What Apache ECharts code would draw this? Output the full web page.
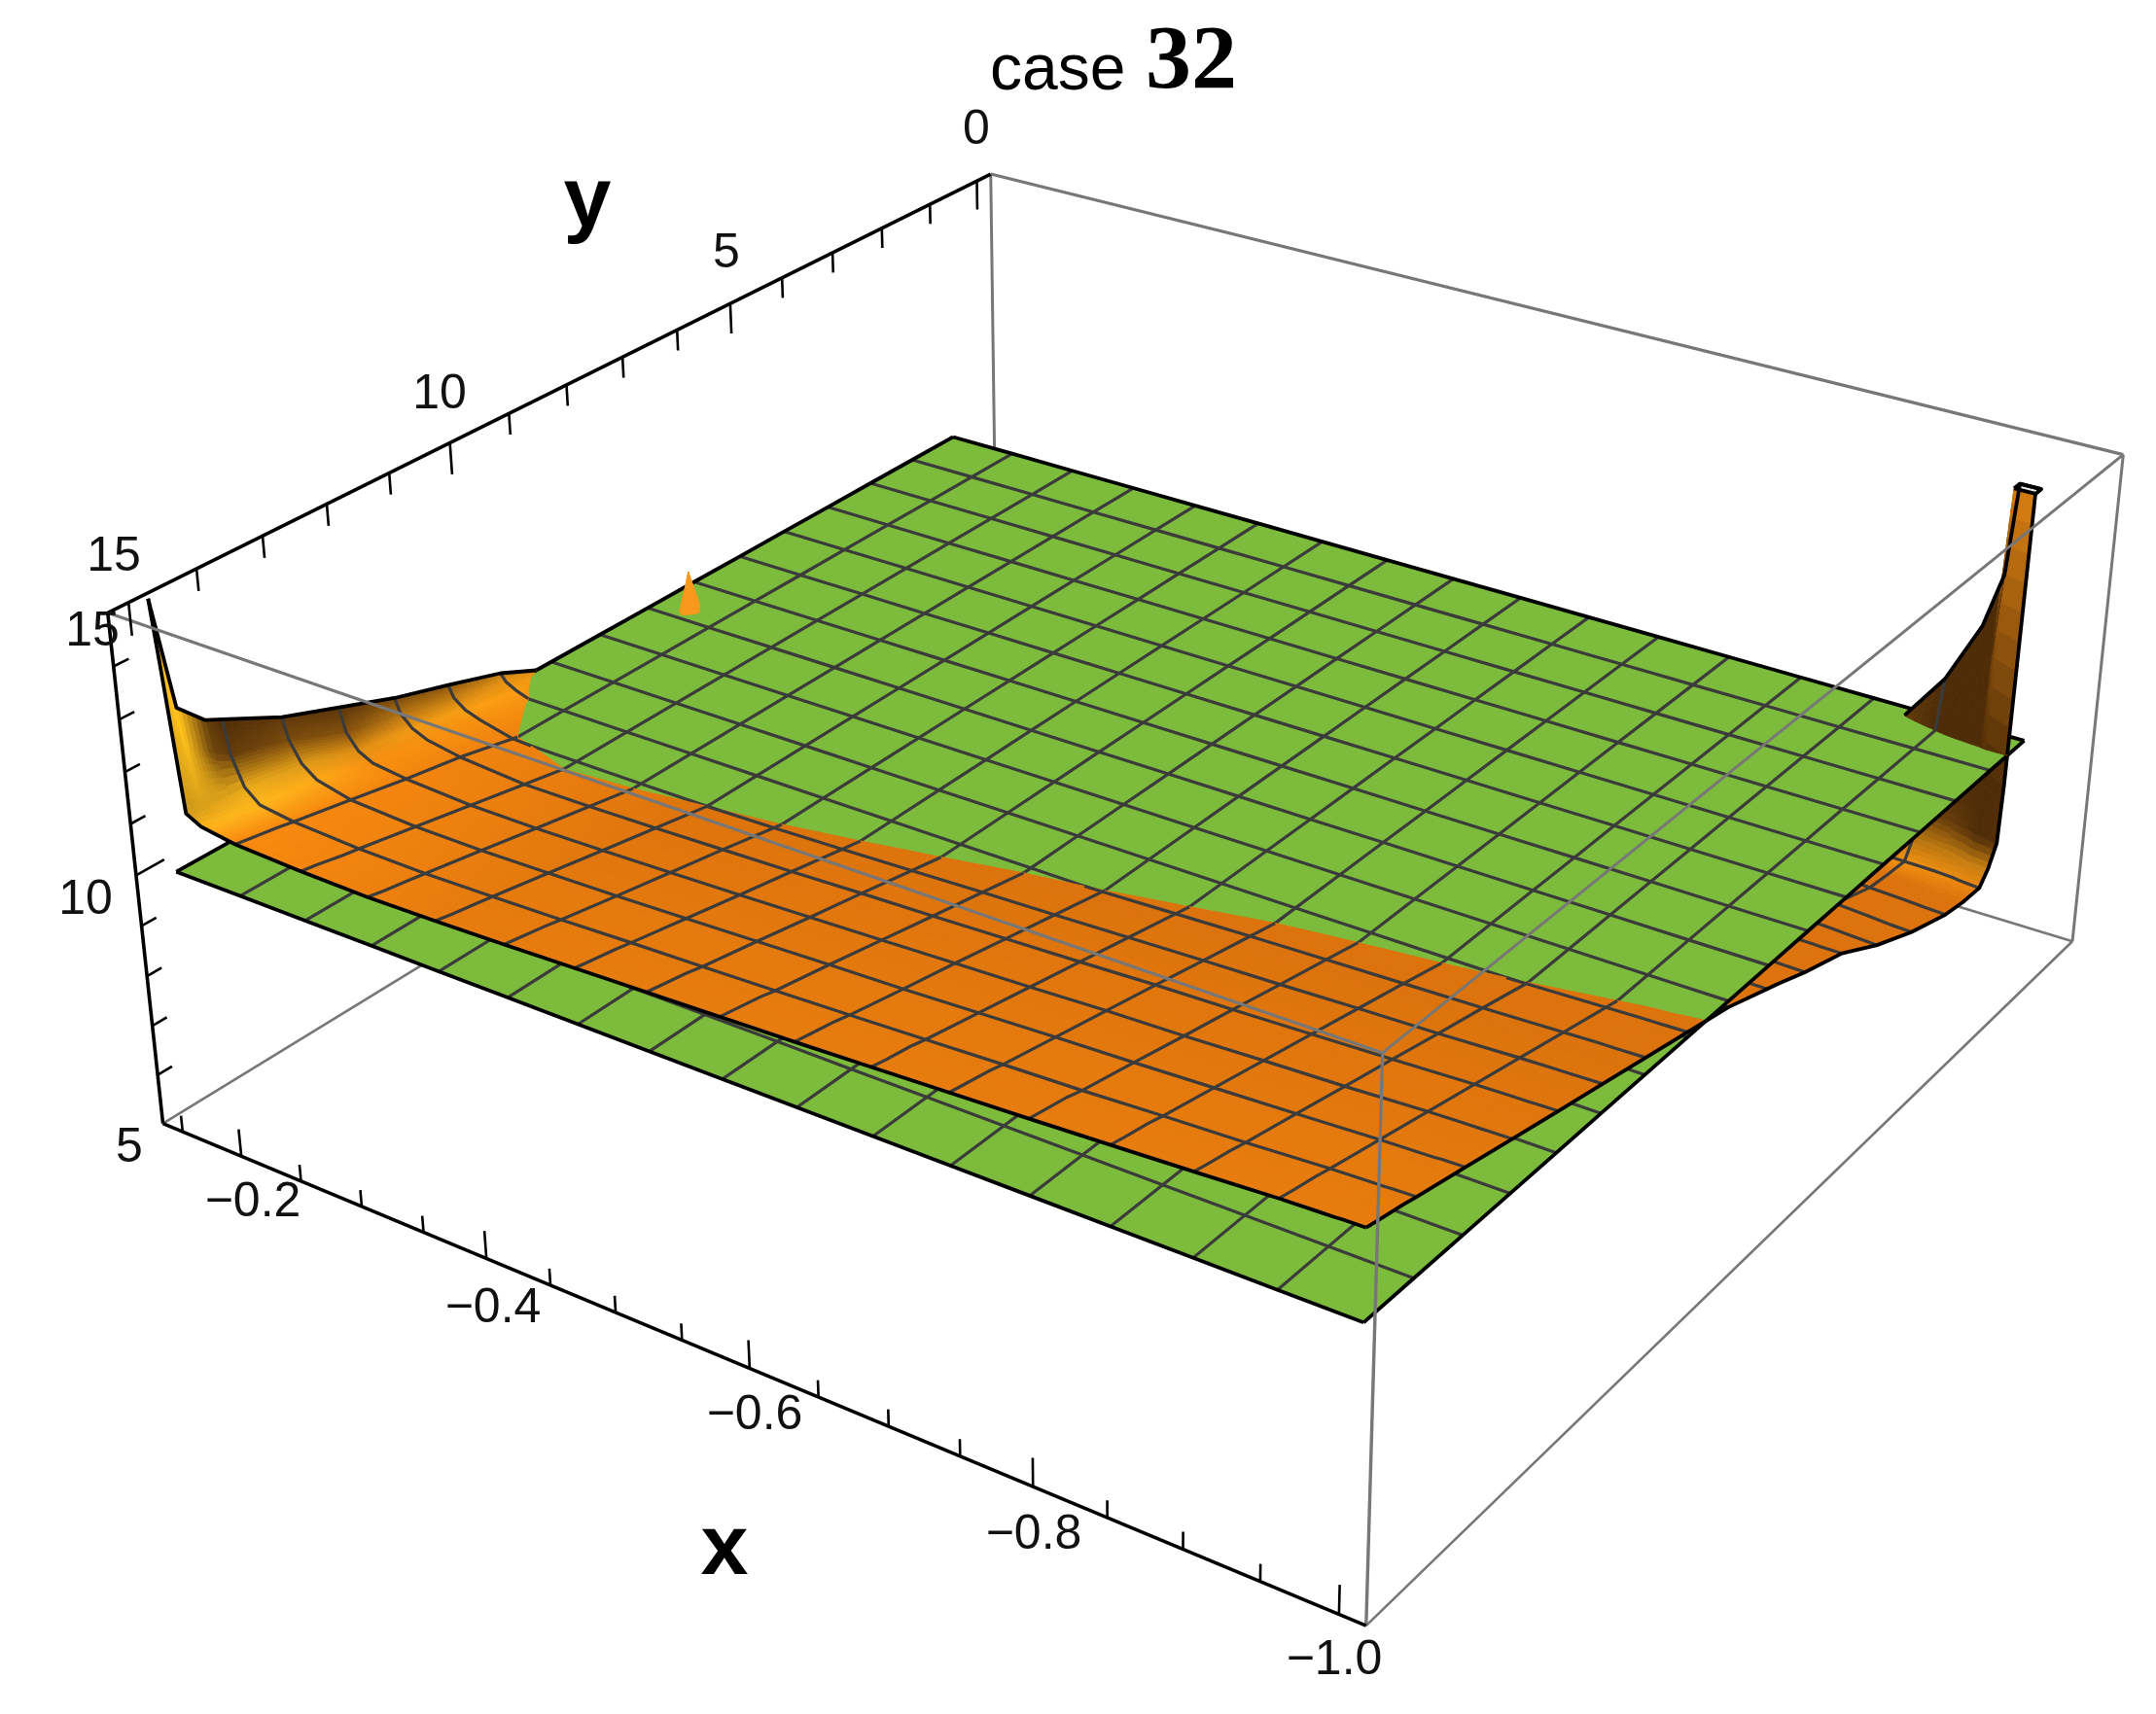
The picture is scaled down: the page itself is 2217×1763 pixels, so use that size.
<!DOCTYPE html>
<html><head><meta charset="utf-8">
<style>html,body{margin:0;padding:0;background:#fff}#c{width:2217px;height:1763px}</style>
<script src="https://cdn.jsdelivr.net/npm/echarts@6/dist/echarts.min.js"></script>
</head><body><div id="c"></div>
<script>
// ---------- chart values ----------
const greenX = [-1,-0.9469,-0.8938,-0.8406,-0.7875,-0.7344,-0.6813,-0.6281,-0.575,-0.5219,-0.4688,-0.4156,-0.3625,-0.3094,-0.2563,-0.2031,-0.15];
const greenY = [15,14.125,13.25,12.375,11.5,10.625,9.75,8.875,8,7.125,6.25,5.375,4.5,3.625,2.75,1.875,1];
const greenLevels = [10,10,10,10,10,10,10,10,10,10,10,10,10,10,10,10,10];
const orangeX = [-0.15,-0.1543,-0.1636,-0.1755,-0.2031,-0.2563,-0.3094,-0.3625,-0.4156,-0.4688,-0.5219,-0.575,-0.6281,-0.6813,-0.7344,-0.7875,-0.8406,-0.8938,-0.9469,-0.9694,-0.981,-0.9856,-1];
const orangeY = [15,14.76,14.37,14.125,13.25,12.375,11.5,10.625,9.75,8.875,8,7.125,6.88,6.25,5.375,4.5,3.625,2.75,2.3,1.875,1.68,1.5,1.45,1.35,1.2];
const orangeZ = [
[15.2,14.0,11.25,11.1,11.0,10.95,10.93,10.96,11.0,11.05,11.1,11.15,11.2,11.26,11.32,11.38,11.45,11.52,11.6,11.62,11.63,11.64,11.65],
[13.0,12.3,11.22,11.0,10.95,10.9,10.87,10.9,10.95,11.0,11.05,11.1,11.15,11.2,11.27,11.33,11.39,11.46,11.54,11.56,11.57,11.58,11.59],
[12.5,11.9,11.15,10.95,10.87,10.8,10.79,10.82,10.87,10.92,10.97,11.02,11.07,11.13,11.19,11.25,11.31,11.37,11.45,11.47,11.48,11.49,11.5],
[12.35,11.7,11.15,10.9,10.81,10.75,10.74,10.77,10.81,10.86,10.9,10.95,11.0,11.06,11.12,11.17,11.24,11.3,11.38,11.4,11.41,11.42,11.43],
[11.8,11.39,11.0,10.78,10.62,10.55,10.55,10.58,10.61,10.66,10.71,10.76,10.8,10.86,10.92,10.97,11.03,11.09,11.16,11.18,11.19,11.2,11.21],
[11.4,10.95,10.65,10.5,10.42,10.35,10.35,10.38,10.42,10.46,10.51,10.56,10.61,10.66,10.72,10.76,10.82,10.87,10.94,10.96,10.965,10.97,10.98],
[11.0,10.72,10.5,10.37,10.25,10.15,10.16,10.19,10.23,10.27,10.32,10.36,10.41,10.46,10.52,10.56,10.61,10.66,10.72,10.74,10.745,10.75,10.76],
[10.68,10.45,10.28,10.18,10.02,9.95,9.97,10.0,10.03,10.07,10.12,10.17,10.21,10.26,10.31,10.35,10.4,10.44,10.5,10.52,10.525,10.53,10.54],
[10.34,10.2,10.08,9.98,9.8,9.75,9.77,9.8,9.84,9.88,9.92,9.97,10.01,10.06,10.11,10.15,10.19,10.23,10.28,10.3,10.305,10.31,10.32],
[9.85,9.78,9.7,9.62,9.6,9.55,9.58,9.61,9.65,9.68,9.73,9.77,9.82,9.86,9.91,9.94,9.97,10.01,10.06,10.08,10.085,10.09,10.1],
[9.6,9.55,9.5,9.45,9.4,9.35,9.38,9.42,9.45,9.49,9.53,9.58,9.62,9.66,9.7,9.73,9.76,9.8,9.84,9.86,9.865,9.87,9.88],
[9.4,9.35,9.25,9.6,9.2,9.15,9.18,9.22,9.25,9.29,9.33,9.38,9.42,9.45,9.48,9.5,9.52,9.54,9.56,9.56,9.555,9.55,9.55],
[9.3,9.2,9.6,10.8,8.0,9.1,9.13,9.18,9.2,9.24,9.28,9.33,9.37,9.4,9.43,9.45,9.46,9.48,9.48,9.48,9.475,9.47,9.46],
[9.2,9.15,9.05,8.0,9.0,8.95,8.98,9.02,9.05,9.09,9.13,9.17,9.2,9.22,9.24,9.25,9.25,9.25,9.23,9.22,9.215,9.21,9.2],
[9.0,8.95,8.9,8.85,8.8,8.75,8.78,8.82,8.85,8.88,8.92,8.95,8.97,8.98,8.98,8.98,8.97,8.95,8.92,8.91,8.905,8.9,8.9],
[8.8,8.75,8.7,8.65,8.6,8.55,8.58,8.6,8.63,8.66,8.68,8.7,8.7,8.7,8.68,8.66,8.62,8.56,8.48,8.45,8.43,8.42,8.4],
[8.6,8.55,8.5,8.45,8.4,8.35,8.38,8.4,8.42,8.44,8.45,8.45,8.45,8.42,8.38,8.34,8.28,8.2,8.1,8.06,8.03,8.02,8.0],
[8.4,8.35,8.3,8.25,8.2,8.15,8.18,8.2,8.22,8.23,8.23,8.22,8.2,8.16,8.1,8.04,7.96,7.88,7.78,7.75,7.73,7.72,7.7],
[8.3,8.25,8.2,8.15,8.1,8.06,8.09,8.11,8.12,8.13,8.13,8.12,8.1,8.05,8.0,7.94,7.87,7.8,7.72,7.69,7.66,7.64,7.62],
[8.2,8.15,8.1,8.05,8.0,7.97,8.0,8.02,8.03,8.04,8.04,8.02,8.0,7.95,7.9,7.84,7.78,7.72,7.68,7.67,7.65,7.63,7.6],
[8.15,8.1,8.05,8.02,7.98,7.95,7.98,8.0,8.02,8.02,8.02,8.01,7.99,7.95,7.91,7.86,7.8,7.82,8.05,7.98,7.92,7.88,7.85],
[8.1,8.05,8.0,8.0,7.95,7.93,7.96,7.98,8.0,8.0,8.0,8.0,7.98,7.95,7.92,7.88,7.82,7.95,8.5,8.4,8.35,8.3,8.25],
[8.0,8.0,7.95,7.95,7.9,7.9,7.92,7.94,7.95,7.95,7.95,7.95,7.93,7.92,7.88,7.85,7.9,8.2,9.0,9.2,9.4,9.6,9.4],
[7.95,7.95,7.9,7.9,7.9,7.9,7.9,7.9,7.9,7.9,7.9,7.9,7.9,7.9,7.9,7.9,8.2,8.5,9.9,11.0,11.8,15.1,15.1],
[7.95,7.95,7.9,7.9,7.9,7.9,7.9,7.9,7.9,7.9,7.9,7.9,7.95,7.95,7.98,8.0,8.4,9.0,10.95,12.2,13.3,15.1,15.1]
];
const orangeMeshColumns = [4,5,6,7,8,9,10,11,12,13,14,15,16,17,18];
const orangeMeshRows = [3,4,5,6,7,8,9,10,11,13,14,15,16,17,19];
const xTicks = [-0.15,-0.2,-0.25,-0.3,-0.35,-0.4,-0.45,-0.5,-0.55,-0.6,-0.65,-0.7,-0.75,-0.8,-0.85,-0.9,-0.95,-1];
const xMajor = [-0.2,-0.4,-0.6,-0.8,-1];
const yTicks = [0,1,2,3,4,5,6,7,8,9,10,11,12,13,14,15];
const yMajor = [0,5,10,15];
const zTicks = [6,7,8,9,10,11,12,13,14];
const zMajor = [10];
const tickLabels = ['0','5','10','15','15','10','5','\u22120.2','\u22120.4','\u22120.6','\u22120.8','\u22121.0'];
const axisNames = ['y','x'];
const titleParts = ['case','32'];
// ---------- layout / style (not data) ----------
const tickLabelPixels = [[1004,134],[747,261],[452,406],[117,573],[95,650],[88,926],[133,1181],[260,1237],[507,1346],[776,1456],[1063,1579],[1372,1708]];
const axisNamePixels = [[604,209],[745,1595]];
const xBox=[-0.133,-1.017], yBox=[-0.3,15.3], zBox=[5,15];
// screen pixels of seven corners of the plot box, [a,b,c] -> pixel; a: x side, b: y side (1=front), c: z side
const boxCalibration = [
 [0,1,1,110,631],[0,0,1,1019,179],[1,0,1,2182,467],[1,1,1,1424,1083],
 [0,1,0,168,1155],[1,1,0,1403,1672],[1,0,0,2132,969]];
const MESH='#3b3b3b', EDGE='#000', GREEN='#7cbb3c', BOX='#777';
const MESH_W=3.2, EDGE_W=3.8;

function solve(A,B){const n=B.length;for(let i=0;i<n;i++){let m=i;for(let r=i+1;r<n;r++)if(Math.abs(A[r][i])>Math.abs(A[m][i]))m=r;
 [A[i],A[m]]=[A[m],A[i]];[B[i],B[m]]=[B[m],B[i]];
 for(let r=i+1;r<n;r++){const f=A[r][i]/A[i][i];for(let c=i;c<n;c++)A[r][c]-=f*A[i][c];B[r]-=f*B[i];}}
 const x=new Array(n);for(let i=n-1;i>=0;i--){let s=B[i];for(let c=i+1;c<n;c++)s-=A[i][c]*x[c];x[i]=s/A[i][i];}return x;}
const P=(()=>{const N=Array.from({length:11},()=>new Array(11).fill(0)),R=new Array(11).fill(0);
 const add=(row,v)=>{for(let i=0;i<11;i++){R[i]+=row[i]*v;for(let j=0;j<11;j++)N[i][j]+=row[i]*row[j];}};
 boxCalibration.forEach(([a,b,c,X,Y])=>{X/=1000;Y/=1000;
  add([a,b,c,1,0,0,0,0,-X*a,-X*b,-X*c],X);add([0,0,0,0,a,b,c,1,-Y*a,-Y*b,-Y*c],Y);});
 return solve(N,R);})();
function project(x,y,z){const a=(x-xBox[0])/(xBox[1]-xBox[0]),b=(y-yBox[0])/(yBox[1]-yBox[0]),c=(z-zBox[0])/(zBox[1]-zBox[0]);
 const w=P[8]*a+P[9]*b+P[10]*c+1;
 return [(P[0]*a+P[1]*b+P[2]*c+P[3])*1000/w,(P[4]*a+P[5]*b+P[6]*c+P[7])*1000/w,w];}
const greenAt=y=>greenLevels[Math.max(0,Math.min(16,Math.round((15-y)/0.875)))];
const gap=(z,y)=>(z-greenAt(y))||1e-6;

// ---------- colours ----------
const rgb=h=>[parseInt(h.slice(1,3),16),parseInt(h.slice(3,5),16),parseInt(h.slice(5,7),16)];
const mix=(a,b,t)=>a.map((v,i)=>v+(b[i]-v)*Math.max(0,Math.min(1,t)));
const css=c=>'rgb('+c.map(v=>Math.round(v)).join(',')+')';
const uOf=x=>(-0.15-x)/0.85, vOf=y=>(15-y)/14;
function nodeColor(j,i){
 const z=orangeZ[j][i],u=uOf(orangeX[i]),v=vOf(orangeY[j]);
 if(z>=15) return rgb('#d87e10');
 if(orangeY[j]>6.2&&orangeY[j]<7.2&&u<0.08) return rgb('#f8981c');
 const i0=Math.max(0,i-1),i1=Math.min(orangeX.length-1,i+1),j0=Math.max(0,j-1),j1=Math.min(orangeY.length-1,j+1);
 const a=Math.abs(orangeZ[j][i1]-orangeZ[j][i0])/(uOf(orangeX[i1])-uOf(orangeX[i0]))/10;
 const b=(orangeZ[j1][i]-orangeZ[j0][i])/(vOf(orangeY[j1])-vOf(orangeY[j0]))/10;
 const s=Math.sqrt(a*a+Math.max(b,0)*Math.max(b,0));
 const f=Math.min(1,Math.max(0,1-u/0.25)*0.8+Math.max(0,1-v/0.35)*0.4);
 const flat=mix(rgb('#dc730c'),rgb('#fa8a10'),f);
 let c;
 if(s<=0.25) c=flat;
 else if(s<=1) c=mix(flat,rgb('#ffa214'),(s-0.25)/0.75);
 else if(s<=2.5) c=mix(rgb('#ffa214'),rgb('#c47e12'),(s-1)/1.5);
 else if(s<=5) c=mix(rgb('#c47e12'),rgb('#7a4a0c'),(s-2.5)/2.5);
 else c=mix(rgb('#7a4a0c'),rgb('#4e2c08'),(s-5)/5);
 if(b<-1) c=mix(c,rgb('#ffc21e'),(-b-1)/3);
 if((i===2||i===3)&&orangeY[j]>12.5) c=mix(c,rgb('#ffc21e'),Math.min(1,(orangeY[j]-12.5)/1.5)*0.7);
 return c;
}
// ---------- surfaces ----------
const lowCells=[],highCells=[],lowLines=[],highLines=[],greenPieces=[],greenLines=[];
function clipPoly(vs,sign){const out=[];for(let k=0;k<vs.length;k++){const p=vs[k],q=vs[(k+1)%vs.length],dp=p.d*sign,dq=q.d*sign;
 if(dp>=0)out.push(p);
 if((dp>0&&dq<0)||(dp<0&&dq>0)){const t=dp/(dp-dq);out.push({X:p.X+(q.X-p.X)*t,Y:p.Y+(q.Y-p.Y)*t,d:0});}}
 return out;}
const R=orangeY.length,C=orangeX.length;
const colors=orangeZ.map((r,j)=>r.map((_,i)=>nodeColor(j,i)));
const order=[];
for(let j=0;j<R-1;j++)for(let i=0;i<C-1;i++)order.push([j,i]);
const depth=([j,i])=>project((orangeX[i]+orangeX[i+1])/2,(orangeY[j]+orangeY[j+1])/2,(orangeZ[j][i]+orangeZ[j+1][i+1])/2)[2];
order.sort((p,q)=>depth(q)-depth(p));
const capPieces=[];
order.forEach(([j,i])=>{
 const zz=[orangeZ[j][i],orangeZ[j][i+1],orangeZ[j+1][i],orangeZ[j+1][i+1]];
 if(Math.min(...zz)>=15){const pts=[[j,i],[j,i+1],[j+1,i+1],[j+1,i]].map(([a,b])=>project(orangeX[b],orangeY[a],orangeZ[a][b]).slice(0,2));
  capPieces.push({pts,color:'#e6e6e6'});highLines.push({pts:pts.concat([pts[0]]),color:EDGE,width:EDGE_W});return;}
 const cs=[colors[j][i],colors[j][i+1],colors[j+1][i],colors[j+1][i+1]];
 let diff=0;for(let ch=0;ch<3;ch++){const vals=cs.map(c=>c[ch]);diff=Math.max(diff,Math.max(...vals)-Math.min(...vals));}
 const pa=project(orangeX[i],orangeY[j],zz[0]),pb=project(orangeX[i+1],orangeY[j+1],zz[3]),pc=project(orangeX[i+1],orangeY[j],zz[1]),pd=project(orangeX[i],orangeY[j+1],zz[2]);
 const ext=Math.max(Math.abs(pa[0]-pb[0]),Math.abs(pa[1]-pb[1]),Math.abs(pc[0]-pd[0]),Math.abs(pc[1]-pd[1]));
 let n=diff>8?Math.max(2,Math.min(10,Math.ceil(ext/9))):(diff>0.5?4:1);
 const ds=[0,1,2,3].map(k=>zz[k]-greenAt(k<2?orangeY[j]:orangeY[j+1]));
 if(Math.min(...ds)<0&&Math.max(...ds)>0)n=Math.max(n,3);
 const at=(s,t)=>{const x=orangeX[i]+(orangeX[i+1]-orangeX[i])*s,y=orangeY[j]+(orangeY[j+1]-orangeY[j])*t;
  const z=zz[0]*(1-s)*(1-t)+zz[1]*s*(1-t)+zz[2]*(1-s)*t+zz[3]*s*t;const p=project(x,y,z);
  return {X:p[0],Y:p[1],d:z-greenAt(y)};};
 const colAt=(s,t)=>[0,1,2].map(ch=>cs[0][ch]*(1-s)*(1-t)+cs[1][ch]*s*(1-t)+cs[2][ch]*(1-s)*t+cs[3][ch]*s*t);
 for(let a=0;a<n;a++)for(let b=0;b<n;b++){
  const s0=a/n,s1=(a+1)/n,t0=b/n,t1=(b+1)/n;
  const vs=[at(s0,t0),at(s1,t0),at(s1,t1),at(s0,t1)];
  const color=css(colAt((s0+s1)/2,(t0+t1)/2));
  const hi=clipPoly(vs,1),lo=clipPoly(vs,-1);
  if(hi.length>2&&vs.some(q=>q.d>0))highCells.push({pts:hi.map(q=>[q.X,q.Y]),color});
  if(lo.length>2&&vs.some(q=>q.d<0))lowCells.push({pts:lo.map(q=>[q.X,q.Y]),color});
 }
});
function addLine(nodes,color,width){ // nodes: [x,y,z]
 let run=[],side=0;const flush=()=>{if(run.length>1)(side>=0?highLines:lowLines).push({pts:run,color,width});};
 let prev=null;
 nodes.forEach(([x,y,z])=>{const p=project(x,y,z),d=gap(z,y),cur={X:p[0],Y:p[1],d};
  if(prev){
   if(prev.d*d<0){const t=prev.d/(prev.d-d),m=[prev.X+(cur.X-prev.X)*t,prev.Y+(cur.Y-prev.Y)*t];
    run.push(m);flush();run=[m];side=d>0?1:-1;}
  }else side=d>0?1:-1;
  run.push([p[0],p[1]]);prev=cur;});
 flush();
}
orangeMeshRows.forEach(j=>addLine(orangeX.map((x,i)=>[x,orangeY[j],orangeZ[j][i]]),MESH,MESH_W));
orangeMeshColumns.forEach(i=>addLine(orangeY.map((y,j)=>[orangeX[i],y,orangeZ[j][i]]),MESH,MESH_W));
addLine(orangeX.map((x,i)=>[x,orangeY[0],orangeZ[0][i]]),EDGE,EDGE_W);
addLine(orangeX.map((x,i)=>[x,orangeY[R-1],orangeZ[R-1][i]]),EDGE,EDGE_W);
addLine(orangeY.map((y,j)=>[orangeX[0],y,orangeZ[j][0]]),EDGE,EDGE_W);
addLine(orangeY.map((y,j)=>[orangeX[C-1],y,orangeZ[j][C-1]]),EDGE,EDGE_W);
// green plane
for(let j=0;j<16;j++)for(let i=0;i<16;i++){
 greenPieces.push({pts:[[i,j],[i+1,j],[i+1,j+1],[i,j+1]].map(([a,b])=>project(greenX[a],greenY[b],greenLevels[b]).slice(0,2)),color:GREEN});}
for(let k=1;k<16;k++){
 greenLines.push({pts:greenX.map(x=>project(x,greenY[k],greenLevels[k]).slice(0,2)),color:MESH,width:MESH_W});
 greenLines.push({pts:greenY.map((y,b)=>project(greenX[k],y,greenLevels[b]).slice(0,2)),color:MESH,width:MESH_W});}
[0,16].forEach(k=>{greenLines.push({pts:greenX.map(x=>project(x,greenY[k],greenLevels[k]).slice(0,2)),color:EDGE,width:EDGE_W});
 greenLines.push({pts:greenY.map((y,b)=>project(greenX[k],y,greenLevels[b]).slice(0,2)),color:EDGE,width:EDGE_W});});
// ---------- box and axes ----------
const [xL,xR]=xBox,[yB,yF]=yBox,[zB,zT]=zBox;
const seg=(p,q,color,width)=>({pts:[project(...p).slice(0,2),project(...q).slice(0,2)],color,width});
const boxBack=[
 seg([xL,yB,zT],[xR,yB,zT],BOX,3.2),seg([xL,yB,zT],[xL,yB,zB],BOX,3),seg([xR,yB,zT],[xR,yB,zB],BOX,3),
 seg([xL,yB,zB],[xL,yF,zB],BOX,2.6),seg([xL,yB,zB],[xR,yB,zB],BOX,2.6),seg([xR,yF,zB],[xR,yB,zB],BOX,2.6)];
const boxFront=[
 seg([xL,yF,zT],[xR,yF,zT],BOX,3.2),seg([xR,yF,zT],[xR,yB,zT],BOX,3),seg([xR,yF,zT],[xR,yF,zB],BOX,3.4),
 seg([xL,yF,zB],[xR,yF,zB],EDGE,3.6),seg([xL,yF,zT],[xL,yB,zT],EDGE,3.6),seg([xL,yF,zT],[xL,yF,zB],EDGE,3.6)];
xTicks.forEach(x=>boxFront.push(seg([x,yF,zB],[x,yF,zB+(xMajor.includes(x)?0.55:0.33)],EDGE,2.6)));
yTicks.forEach(y=>boxFront.push(seg([xL,y,zT],[xL,y,zT-(yMajor.includes(y)?0.62:0.42)],EDGE,2.6)));
zTicks.forEach(z=>boxFront.push(seg([xL,yF,z],[xL,yF-(zMajor.includes(z)?0.42:0.22),z],EDGE,2.6)));
// ---------- echarts ----------
const polySeries=(list,z)=>({type:'custom',coordinateSystem:'cartesian2d',silent:true,animation:false,clip:false,progressive:0,z,
 data:list.map((_,i)=>[i]),renderItem:(p,api)=>{const it=list[p.dataIndex];
  return {type:'polygon',shape:{points:it.pts.map(q=>api.coord(q))},style:{fill:it.color,stroke:it.color,lineWidth:0.9}};}});
const lineSeries=(list,z)=>({type:'custom',coordinateSystem:'cartesian2d',silent:true,animation:false,clip:false,progressive:0,z,
 data:list.map((_,i)=>[i]),renderItem:(p,api)=>{const it=list[p.dataIndex];
  return {type:'polyline',shape:{points:it.pts.map(q=>api.coord(q))},style:{fill:null,stroke:it.color,lineWidth:it.width,lineJoin:'round',lineCap:'butt'}};}});
const texts=[];
tickLabels.forEach((t,i)=>texts.push({t,at:tickLabelPixels[i],font:'50px "Liberation Sans"',fill:'#111',align:'center'}));
axisNames.forEach((t,i)=>texts.push({t,at:axisNamePixels[i],font:'bold 88px "Liberation Sans"',fill:'#000',align:'center'}));
texts.push({t:titleParts[0],at:[1018,74],font:'66px "Liberation Sans"',fill:'#000',align:'left'});
texts.push({t:titleParts[1],at:[1178,66],font:'bold 94px "Liberation Serif"',fill:'#000',align:'left'});
const textSeries={type:'custom',coordinateSystem:'cartesian2d',silent:true,animation:false,clip:false,z:20,
 data:texts.map((_,i)=>[i]),renderItem:(p,api)=>{const it=texts[p.dataIndex],c=api.coord(it.at);
  return {type:'text',x:c[0],y:c[1],style:{text:it.t,font:it.font,fill:it.fill,align:it.align,verticalAlign:'middle',textAlign:it.align,textVerticalAlign:'middle'}};}};
const chart=echarts.init(document.getElementById('c'),null,{renderer:'canvas',width:2217,height:1763});
chart.setOption({animation:false,backgroundColor:'#fff',
 grid:{left:0,right:0,top:0,bottom:0},
 xAxis:{type:'value',min:0,max:2217,show:false},
 yAxis:{type:'value',min:0,max:1763,inverse:true,show:false},
 series:[lineSeries(boxBack,1),polySeries(lowCells,2),lineSeries(lowLines,3),polySeries(greenPieces,4),lineSeries(greenLines,5),
  polySeries(highCells,6),polySeries(capPieces,7),lineSeries(highLines,8),lineSeries(boxFront,9),textSeries]});
</script></body></html>
